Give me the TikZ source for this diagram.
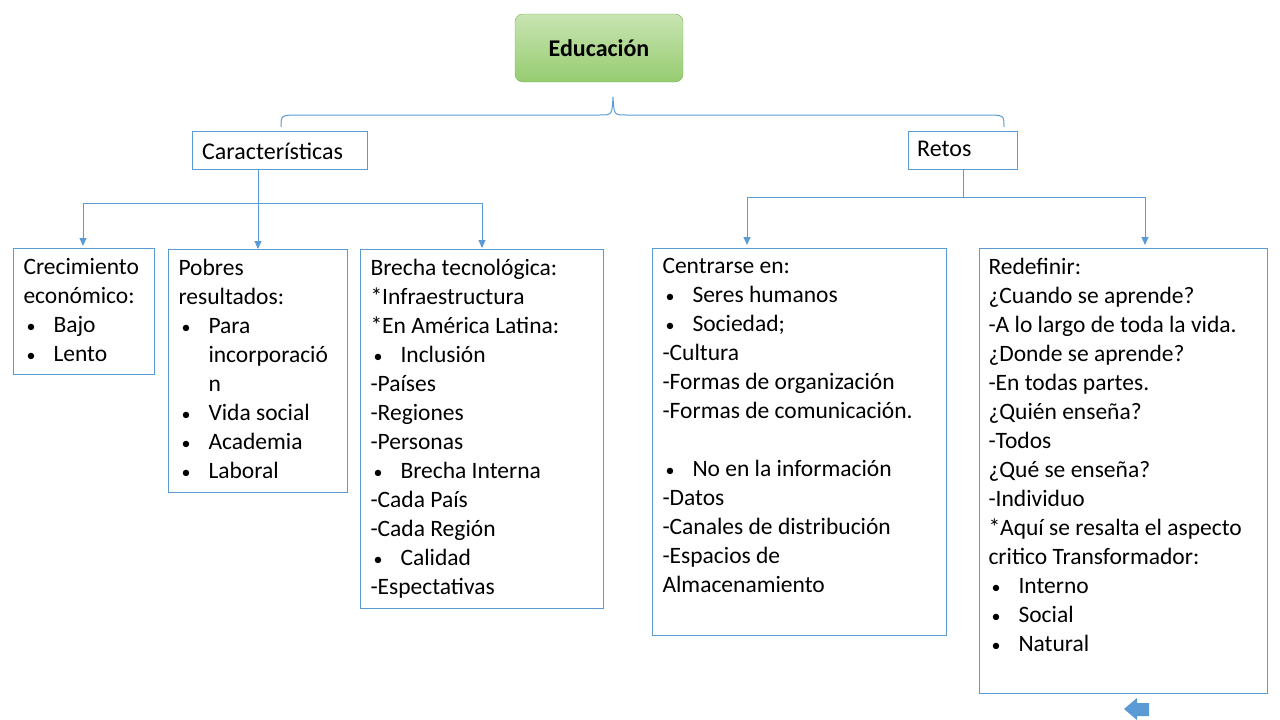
\documentclass[tikz,border=0pt]{standalone}
\usepackage{fontspec}
\setmainfont{Carlito}
\usetikzlibrary{positioning,arrows.meta}
\definecolor{linkblue}{RGB}{91,155,213}
\definecolor{edutop}{RGB}{200,228,178}
\definecolor{edubot}{RGB}{150,204,112}
\definecolor{eduline}{RGB}{120,180,90}
\newcommand{\bl}{\makebox[30pt][l]{\hspace{3pt}{\fontsize{18}{29}\selectfont•}}}
\newcommand{\ind}{\hspace*{30pt}}
\begin{document}
\begin{tikzpicture}[x=1pt,y=-1pt,
	txtbox/.style={draw=linkblue,line width=1pt,anchor=north west,align=left,inner sep=0pt,
		font=\fontsize{23.5}{29}\selectfont},
	link/.style={draw=linkblue,line width=1pt},
	linkarrow/.style={link,-{Triangle[width=7pt,length=8pt]}}]
	\useasboundingbox (0,0) rectangle (1280,720);
	
	% Top node
	\node[draw=eduline,rounded corners=8pt,
		top color=edutop,bottom color=edubot,
		minimum width=168pt,minimum height=68pt,
		font=\fontsize{24}{28}\selectfont\bfseries] (edu) at (599,48) {Educación};
	
	% Brace
	\draw[link] (281,127) .. controls (281,115) .. (300,115) -- (600,115)
		.. controls (612,115) .. (613,97) .. controls (614,115) .. (626,115)
		-- (985,115) .. controls (1004,115) .. (1004,127);
	
	% Second level
	\node[txtbox,minimum width=175pt,minimum height=38pt] (car) at (192,131) {};
	\node[anchor=west,inner sep=0pt,font=\fontsize{24}{28}\selectfont] at (202,151) {Características};
	\node[txtbox,minimum width=109pt,minimum height=38pt] (ret) at (908,131) {};
	\node[anchor=west,inner sep=0pt,font=\fontsize{24}{28}\selectfont] at (917,149) {Retos};
	
	% Leaves
	\node[txtbox,minimum width=141pt,minimum height=126pt] (cre) at (13,248) {};
	\node[txtbox,draw=none] at (23,258) {Crecimiento\\económico:\\\bl Bajo\\\bl Lento};
	\node[txtbox,minimum width=179pt,minimum height=243pt] (pob) at (168,249) {};
	\node[txtbox,draw=none] at (178,259) {Pobres\\resultados:\\\bl Para\\\ind incorporació\\\ind n\\\bl Vida social\\\bl Academia\\\bl Laboral};
	\node[txtbox,minimum width=243pt,minimum height=359pt] (bre) at (360,249) {};
	\node[txtbox,draw=none] at (370,259) {Brecha tecnológica:\\*Infraestructura\\*En América Latina:\\\bl Inclusión\\-Países\\-Regiones\\-Personas\\\bl Brecha Interna\\-Cada País\\-Cada Región\\\bl Calidad\\-Espectativas};
	\node[txtbox,minimum width=294pt,minimum height=387pt] (cen) at (652,248) {};
	\node[txtbox,draw=none] at (662,258) {Centrarse en:\\\bl Seres humanos\\\bl Sociedad;\\-Cultura\\-Formas de organización\\-Formas de comunicación.\\[29pt]\bl No en la información\\-Datos\\-Canales de distribución\\-Espacios de\\Almacenamiento};
	\node[txtbox,minimum width=288pt,minimum height=445pt] (red) at (979,248) {};
	\node[txtbox,draw=none] at (988,258) {Redefinir:\\¿Cuando se aprende?\\-A lo largo de toda la vida.\\¿Donde se aprende?\\-En todas partes.\\¿Quién enseña?\\-Todos\\¿Qué se enseña?\\-Individuo\\*Aquí se resalta el aspecto\\critico Transformador:\\\bl Interno\\\bl Social\\\bl Natural};
	
	% Connectors
	\coordinate (cj) at (258,203);
	\coordinate (rj) at (963,197);
	\draw[linkarrow] (car.south -| cj) -- (pob.north -| cj);
	\draw[link] (83,203) -- (482,203);
	\draw[linkarrow] (83,203) -- (83,246);
	\draw[linkarrow] (482,203) -- (482,248);
	\draw[link] (ret.south -| rj) -- (rj);
	\draw[link] (747,197) -- (1145,197);
	\draw[linkarrow] (747,197) -- (747,245);
	\draw[linkarrow] (1145,197) -- (1145,245);
	
	% Back arrow
	\fill[linkblue] (1124,709) -- (1137,698) -- (1137,703) -- (1149,703)
		-- (1149,716) -- (1137,716) -- (1137,720) -- cycle;
\end{tikzpicture}
\end{document}
